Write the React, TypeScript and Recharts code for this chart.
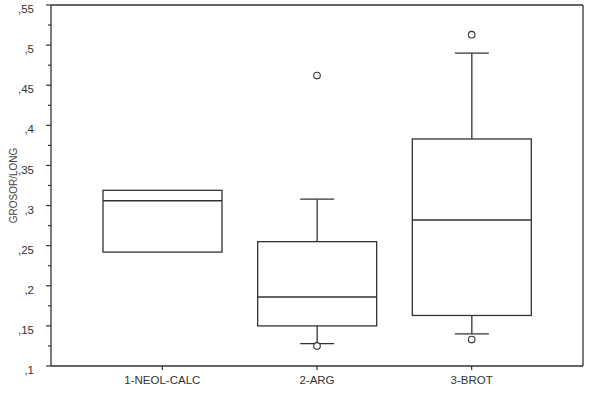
import { ComposedChart, Bar, Scatter, XAxis, YAxis, ReferenceLine } from 'recharts';

// box plot summary per group
const categories = ['1-NEOL-CALC', '2-ARG', '3-BROT'];
const lowerWhisker = [0.242, 0.128, 0.14];
const q1 = [0.242, 0.15, 0.163];
const median = [0.306, 0.186, 0.282];
const q3 = [0.319, 0.255, 0.383];
const upperWhisker = [0.319, 0.308, 0.49];

const outlierCats = ['2-ARG', '2-ARG', '3-BROT', '3-BROT'];
const outlierValues = [0.462, 0.125, 0.513, 0.133];

const yMajorTicks = [0.1, 0.15, 0.2, 0.25, 0.3, 0.35, 0.4, 0.45, 0.5, 0.55];
const yMinorTicks = [0.125, 0.175, 0.225, 0.275, 0.325, 0.375, 0.425, 0.475, 0.525];
const yTicks = [...yMajorTicks, ...yMinorTicks].sort((a, b) => a - b);

const rows = categories.map((cat, i) => ({
  cat,
  range: [lowerWhisker[i], upperWhisker[i]],
  lo: lowerWhisker[i],
  q1: q1[i],
  med: median[i],
  q3: q3[i],
  hi: upperWhisker[i],
}));

const outliers = outlierCats.map((cat, i) => ({ cat, value: outlierValues[i] }));

const INK = '#333';
const FONT = '"Liberation Sans", Arial, sans-serif';

const fmt = (v: number) => String(v).replace('0.', ',');

const BoxShape = (props: any) => {
  const { x, y, width, height, payload } = props;
  const { lo, hi } = payload;
  const span = hi - lo;
  // linear map from the bar's own pixel extent (whisker range)
  const toY = (v: number) => y + ((hi - v) / span) * height;
  const cx = x + width / 2;
  const cap = 17;
  const yq1 = toY(payload.q1);
  const yq3 = toY(payload.q3);
  const ym = toY(payload.med);
  return (
    <g stroke={INK} strokeWidth={1.3} fill="none">
      {payload.hi > payload.q3 && (
        <>
          <line x1={cx} x2={cx} y1={y} y2={yq3} />
          <line x1={cx - cap} x2={cx + cap} y1={y} y2={y} />
        </>
      )}
      {payload.lo < payload.q1 && (
        <>
          <line x1={cx} x2={cx} y1={yq1} y2={y + height} />
          <line x1={cx - cap} x2={cx + cap} y1={y + height} y2={y + height} />
        </>
      )}
      <rect x={x} y={yq3} width={width} height={yq1 - yq3} fill="#fff" />
      <line x1={x} x2={x + width} y1={ym} y2={ym} />
    </g>
  );
};

const OutlierShape = (props: any) => {
  const { cx, cy } = props;
  return <circle cx={cx} cy={cy} r={3.3} fill="#fff" stroke={INK} strokeWidth={1.1} />;
};

const LeftTick = (props: any) => {
  const { x, y, payload } = props;
  const major = yMajorTicks.includes(payload.value);
  return (
    <g>
      <line x1={x} x2={x - (major ? 5 : 3)} y1={y} y2={y} stroke={INK} strokeWidth={1.2} />
      {major && (
        <text x={x - 17} y={y + 4} dy="0.355em" textAnchor="end" fontSize={11.5} fill={INK} fontFamily={FONT}>
          {fmt(payload.value)}
        </text>
      )}
    </g>
  );
};

const RightTick = (props: any) => {
  const { x, y, payload } = props;
  const major = yMajorTicks.includes(payload.value);
  return <line x1={x} x2={x + (major ? 5 : 3)} y1={y} y2={y} stroke={INK} strokeWidth={1.2} />;
};

const YTitle = (props: any) => {
  const vb = props.viewBox || {};
  const cy = (vb.y ?? 0) + (vb.height ?? 0) / 2;
  return (
    <text
      transform={`translate(13, ${cy}) rotate(-90)`}
      textAnchor="middle"
      dominantBaseline="central"
      fontSize={10}
      fill="#444"
      fontFamily={FONT}
    >
      GROSOR/LONG
    </text>
  );
};

export default function App() {
  return (
    <div style={{ position: 'absolute', left: 0, top: 0, background: '#fff' }}>
      <ComposedChart
        width={595}
        height={402}
        data={rows}
        margin={{ top: 5, right: 0, bottom: 0, left: 0 }}
        style={{ fontFamily: FONT }}
      >
        <XAxis
          dataKey="cat"
          type="category"
          allowDuplicatedCategory={false}
          height={36}
          padding={{ left: 34, right: 34 }}
          tickSize={4}
          tickMargin={6}
          tick={{ fontSize: 11.5, fill: INK }}
          tickLine={{ stroke: INK, strokeWidth: 1.2 }}
          axisLine={{ stroke: INK, strokeWidth: 1.3 }}
        />
        <YAxis
          type="number"
          width={51}
          domain={[0.1, 0.55]}
          ticks={yTicks}
          interval={0}
          tickSize={0}
          tickMargin={0}
          tickLine={false}
          tick={<LeftTick />}
          axisLine={{ stroke: INK, strokeWidth: 1.3 }}
          label={{ content: <YTitle /> }}
        />
        <YAxis
          yAxisId="right"
          orientation="right"
          type="number"
          width={12}
          domain={[0.1, 0.55]}
          ticks={yTicks}
          interval={0}
          tickSize={0}
          tickMargin={0}
          tickLine={false}
          tick={<RightTick />}
          axisLine={{ stroke: INK, strokeWidth: 1.3 }}
        />
        <ReferenceLine y={0.55} stroke={INK} strokeWidth={1.3} />
        <Bar dataKey="range" barSize={119} shape={<BoxShape />} isAnimationActive={false} />
        <Scatter data={outliers} dataKey="value" shape={<OutlierShape />} isAnimationActive={false} />
      </ComposedChart>
    </div>
  );
}
